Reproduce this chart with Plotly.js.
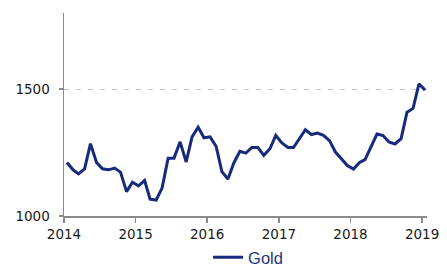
<!DOCTYPE html>
<html>
<head>
<meta charset="utf-8">
<script src="https://cdn.plot.ly/plotly-3.0.1.min.js"></script>
<style>html,body{margin:0;padding:0;background:#fff;}#chart{width:447px;height:275px;}</style>
</head>
<body>
<div id="chart"></div>
<script>
const seriesName = 'Gold';
const startYear = 2014;
const goldValues = [
  1211, 1182, 1166, 1186, 1285, 1211, 1186, 1182, 1189, 1173, 1096, 1133,
  1119, 1140, 1066, 1063, 1110, 1228, 1228, 1292, 1213, 1312, 1350, 1308,
  1312, 1274, 1175, 1146, 1209, 1255, 1248, 1270, 1270, 1239, 1265, 1318,
  1288, 1270, 1270, 1308, 1340, 1321, 1327, 1318, 1297, 1252, 1224, 1199,
  1185, 1211, 1222, 1277, 1323, 1317, 1292, 1284, 1305, 1409, 1424, 1521,
  1496
];
const yTickVals = [1000, 1500];
const xTickVals = ['2014-01-01','2015-01-01','2016-01-01','2017-01-01','2018-01-01','2019-01-01'];
const xTickText = ['2014','2015','2016','2017','2018','2019'];

const dates = goldValues.map((v, i) => {
  const y = startYear + Math.floor(i / 12);
  const m = (i % 12) + 1;
  return y + '-' + String(m).padStart(2, '0') + '-16';
});

const trace = {
  x: dates, y: goldValues, type: 'scatter', mode: 'lines', name: seriesName,
  line: {color: '#172a7c', width: 3}
};

const layout = {
  width: 447, height: 275,
  margin: {l: 63.5, r: 20, t: 13, b: 59},
  paper_bgcolor: '#fff', plot_bgcolor: '#fff',
  font: {family: 'DejaVu Sans, Verdana, sans-serif', size: 13.5, color: '#1a1a1a'},
  showlegend: true,
  legend: {orientation: 'h', x: 0.555, xref: 'container', xanchor: 'center',
           y: -0.02, yref: 'container', yanchor: 'bottom',
           font: {family: 'Liberation Sans, Arial, sans-serif', size: 16.5, color: '#1f3582'}},
  xaxis: {
    type: 'date', range: ['2014-01-01', '2019-01-26'],
    tickvals: xTickVals, ticktext: xTickText,
    showline: true, linecolor: '#8a8a8a', linewidth: 1.5,
    ticks: 'outside', ticklen: 5, tickcolor: '#8a8a8a', tickwidth: 1.5,
    showgrid: false, zeroline: false
  },
  yaxis: {
    range: [1000, 1800], tickvals: yTickVals,
    showline: true, linecolor: '#8a8a8a', linewidth: 1.5,
    ticks: 'outside', ticklen: 4, tickcolor: '#8a8a8a', tickwidth: 1.5,
    ticklabelstandoff: 6,
    showgrid: true, gridcolor: '#c8c8c8', griddash: '5px,7px', gridwidth: 1,
    zeroline: false
  }
};

Plotly.newPlot('chart', [trace], layout, {staticPlot: true, displayModeBar: false});
</script>
</body>
</html>
